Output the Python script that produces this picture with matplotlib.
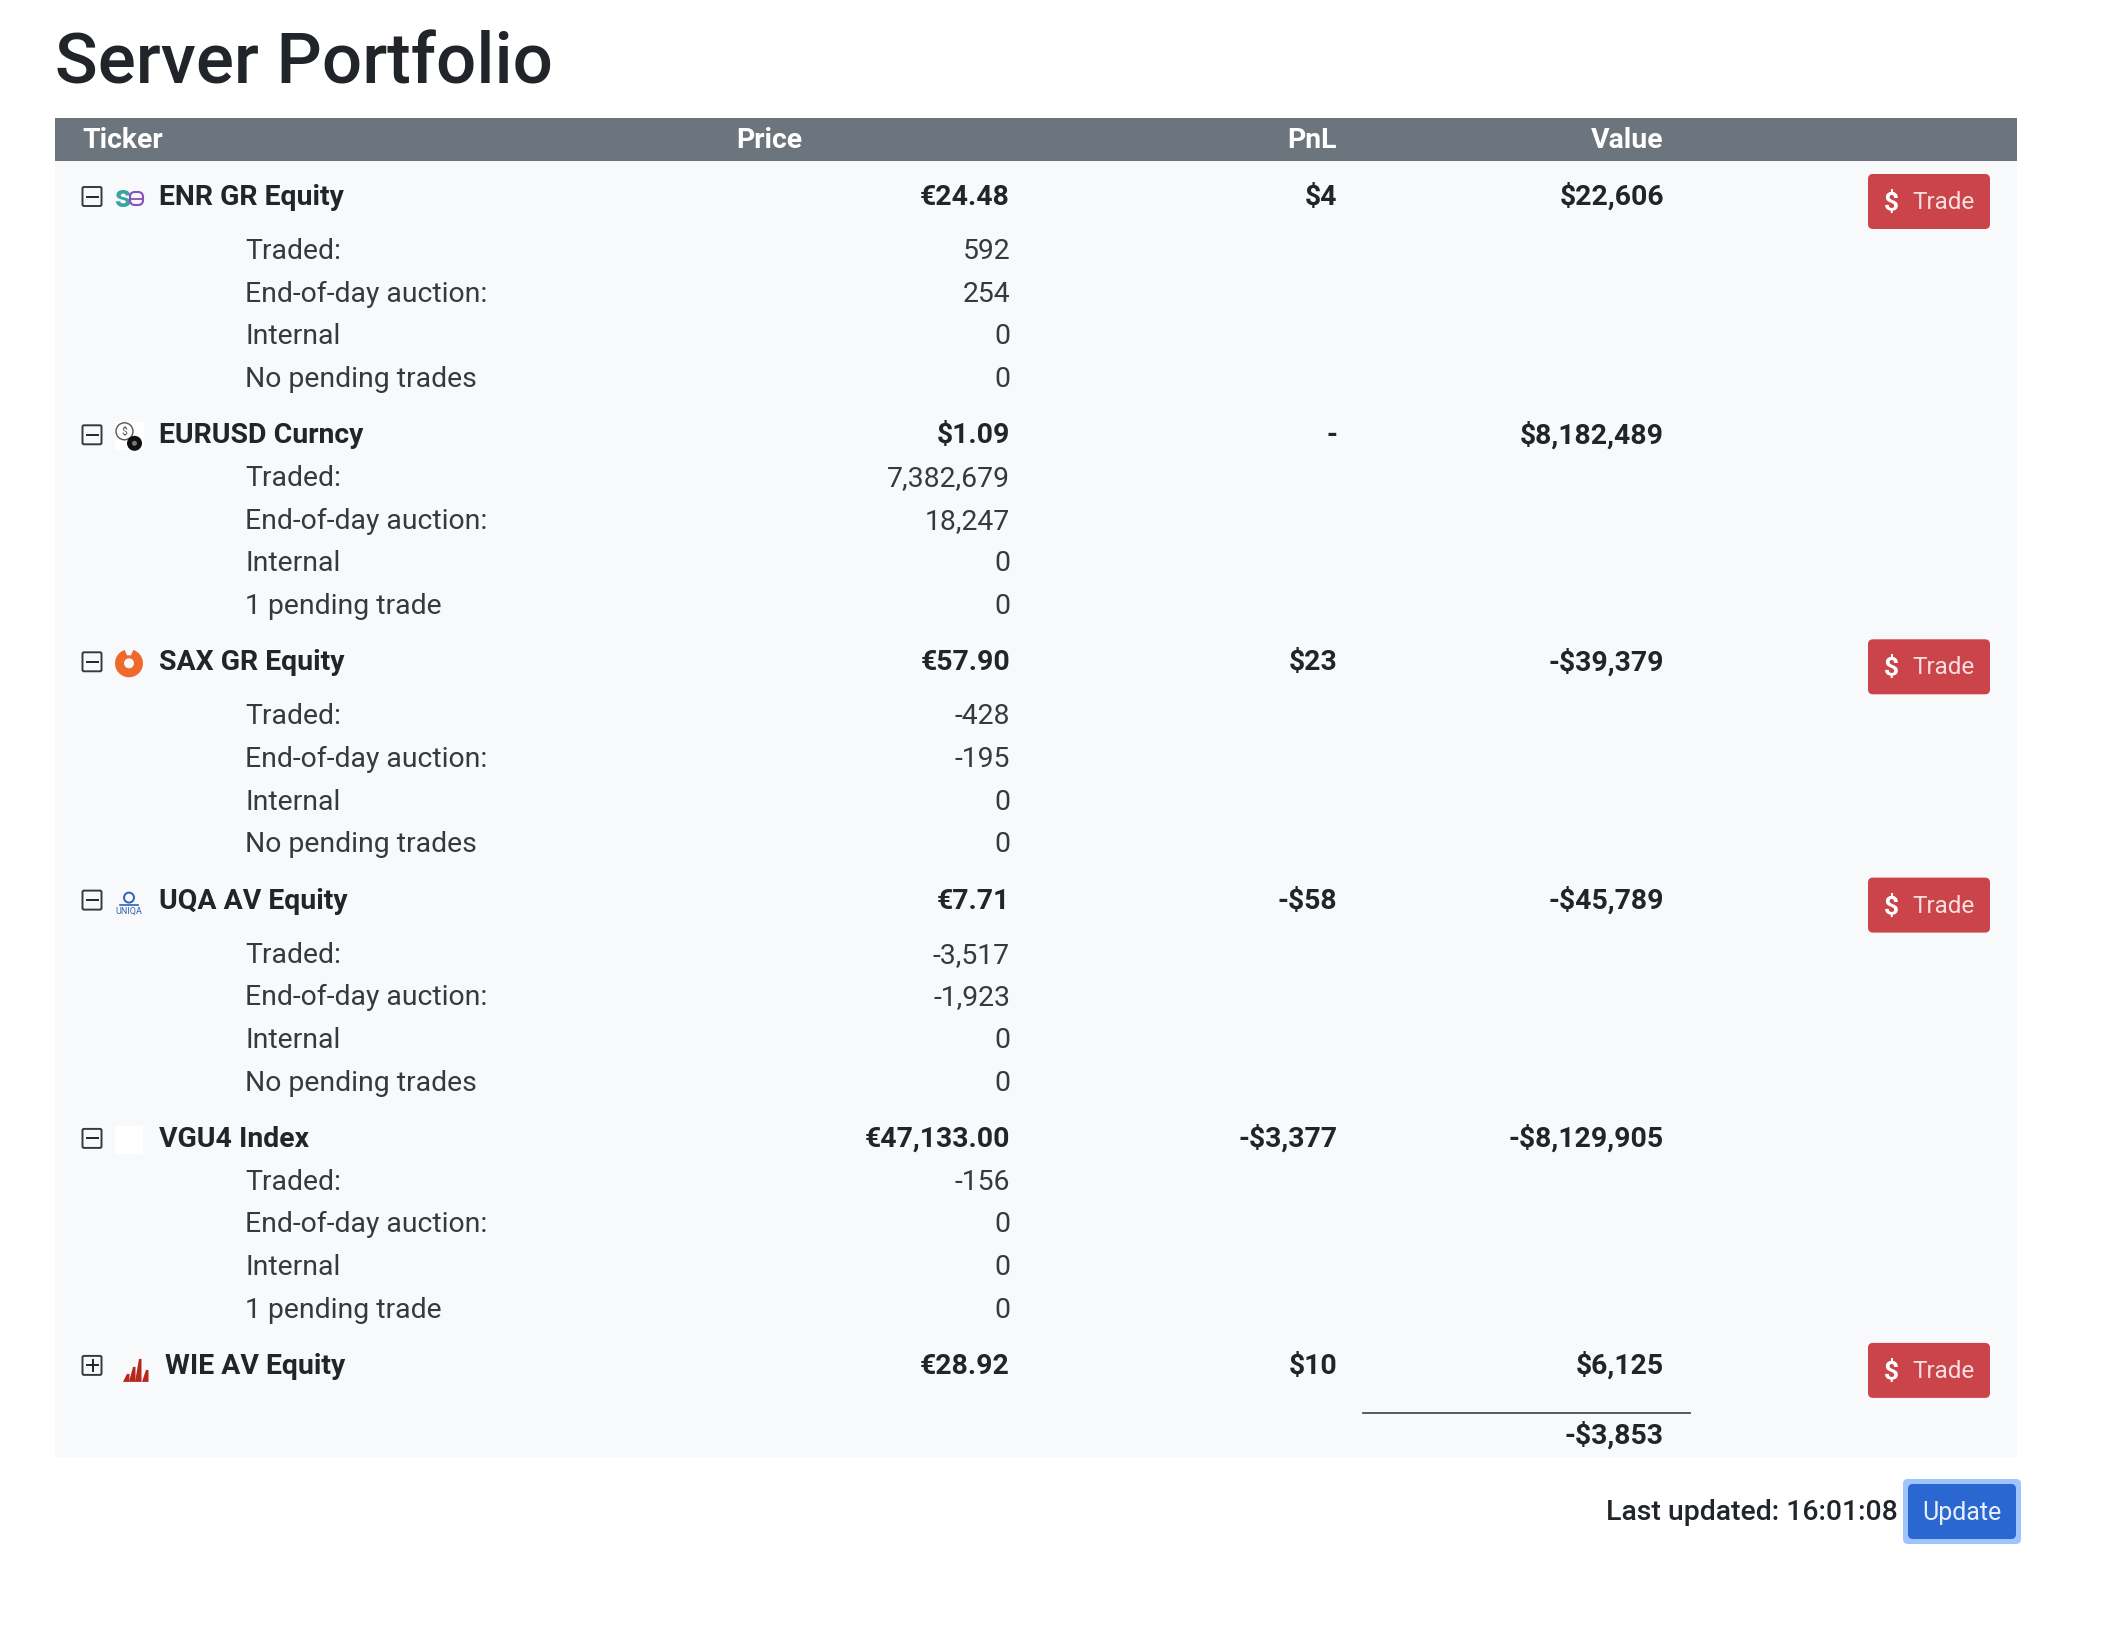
import matplotlib
matplotlib.use('Agg')
import matplotlib.pyplot as plt
from matplotlib.patches import Rectangle, FancyBboxPatch, Circle, Polygon

plt.rcParams['font.family'] = ['Roboto', 'DejaVu Sans']

# table contents
tickers = ['ENR GR Equity', 'EURUSD Curncy', 'SAX GR Equity', 'UQA AV Equity', 'VGU4 Index', 'WIE AV Equity']
prices = ['€24.48', '$1.09', '€57.90', '€7.71', '€47,133.00', '€28.92']
pnls = ['$4', '-', '$23', '-$58', '-$3,377', '$10']
values = ['$22,606', '$8,182,489', '-$39,379', '-$45,789', '-$8,129,905', '$6,125']
has_trade = [True, False, True, True, False, True]
expanded = [True, True, True, True, True, False]
traded = ['592', '7,382,679', '-428', '-3,517', '-156', None]
auction = ['254', '18,247', '-195', '-1,923', '0', None]
internal = ['0', '0', '0', '0', '0', None]
pending_labels = ['No pending trades', '1 pending trade', 'No pending trades', 'No pending trades', '1 pending trade', None]
pending = ['0', '0', '0', '0', '0', None]
total_value = '-$3,853'
last_updated = 'Last updated: 16:01:08'

DARK = '#212529'
BG = '#f8f9fa'
FS = 20.4

fig = plt.figure(figsize=(21.18, 16.38), dpi=100, facecolor='white')
ax = fig.add_axes([0, 0, 1, 1])
ax.set_xlim(0, 2118)
ax.set_ylim(1638, 0)
ax.axis('off')


def txt(x, y, s, ha='left', weight='normal', color=DARK, size=FS):
    ax.text(x, y, s, ha=ha, va='baseline', fontsize=size, fontweight=weight, color=color)


def button(x0, y0, x1, y1, color, zorder=2):
    ax.add_patch(FancyBboxPatch((x0, y0), x1 - x0, y1 - y0, boxstyle='round,pad=0,rounding_size=5',
                                fc=color, ec='none', zorder=zorder))


# title and table background
txt(55, 84, 'Server Portfolio', weight='medium', size=51)
ax.add_patch(Rectangle((55, 117.5), 1962, 1339, fc=BG, ec='none', zorder=0))
ax.add_patch(Rectangle((55, 117.5), 1962, 43, fc='#6c757d', ec='none', zorder=1))

PRICE_X, PNL_X, VALUE_X = 1010, 1337, 1664
txt(82, 148, 'Ticker', weight='bold', color='white')
txt(802, 148, 'Price', ha='right', weight='bold', color='white')
txt(PNL_X, 148, 'PnL', ha='right', weight='bold', color='white')
txt(VALUE_X, 148, 'Value', ha='right', weight='bold', color='white')


def draw_logo(i, y):
    if i == 0:
        ax.text(114, y + 2, 's', fontsize=23, fontweight='bold', color='#3aa5a0', va='baseline')
        ax.add_patch(FancyBboxPatch((130, y - 13), 13, 13, boxstyle='round,pad=0,rounding_size=5',
                                    fc='none', ec='#8a4fc0', lw=1.5, zorder=3))
        ax.plot([131, 142], [y - 6.5, y - 6.5], color='#8a4fc0', lw=1.3, zorder=3)
    elif i == 1:
        ax.add_patch(Rectangle((115, y - 21), 29, 28, fc='white', ec='none', zorder=2))
        ax.add_patch(Circle((124.5, y - 12), 8.5, fc='white', ec='#555555', lw=1, zorder=3))
        ax.text(124.5, y - 8, '$', fontsize=7.5, color='#555555', ha='center', va='baseline', zorder=4)
        ax.add_patch(Circle((134.5, y + 0), 7.5, fc='#111111', ec='none', zorder=5))
        ax.add_patch(Circle((134.5, y + 0), 2.5, fc='#777777', ec='none', zorder=6))
    elif i == 2:
        ax.add_patch(Circle((129, y - 7), 14, fc='#ef6a2a', ec='none', zorder=3))
        ax.add_patch(Circle((129, y - 7), 5, fc=BG, ec='none', zorder=4))
        ax.add_patch(Polygon([(124, y - 22), (134, y - 22), (131, y - 15), (127, y - 15)],
                             fc=BG, ec='none', zorder=4))
    elif i == 3:
        ax.text(129, y + 5, 'UNIQA', fontsize=6.5, color='#2f62b5', ha='center', va='baseline', zorder=3)
        ax.add_patch(Circle((129, y - 11), 5, fc='none', ec='#2f62b5', lw=1.4, zorder=3))
        ax.plot([120, 138], [y - 4, y - 4], color='#2f62b5', lw=1.2, zorder=3)
    elif i == 4:
        ax.add_patch(Rectangle((115, y - 21), 28, 28, fc='white', ec='none', zorder=2))
    else:
        for x0, h in [(123, 8), (129, 15), (135, 23), (142, 12)]:
            top = y + 8 - h
            ax.add_patch(Polygon([(x0, y + 8), (x0 + 4, top), (x0 + 6.5, top), (x0 + 6.5, y + 8)],
                                 fc='#b5281e', ec='none', zorder=3))


# rows
y = 205
for i in range(len(tickers)):
    # expand box
    ax.add_patch(FancyBboxPatch((82.5, y - 18), 19, 19, boxstyle='round,pad=0,rounding_size=1.5',
                                fc='none', ec='#343a40', lw=1.4, zorder=3))
    ax.plot([87, 98], [y - 8.5, y - 8.5], color='#212529', lw=1.4, zorder=3)
    if not expanded[i]:
        ax.plot([92.5, 92.5], [y - 14, y - 3], color='#212529', lw=1.4, zorder=3)
    draw_logo(i, y)

    txt(159 if expanded[i] else 165, y, tickers[i], weight='bold')
    txt(PRICE_X, y, prices[i], ha='right', weight='bold')
    txt(PNL_X, y, pnls[i], ha='right', weight='bold')
    txt(VALUE_X, y, values[i], ha='right', weight='bold')

    if has_trade[i]:
        button(1868, y - 31, 1990, y + 24, '#cb444a')
        txt(1891, y + 5, '$', ha='center', weight='bold', color='white', size=19)
        txt(1912, y + 4, 'Trade', color='#f6dfe0', size=17.5)

    if expanded[i]:
        sub = y + (54 if has_trade[i] else 42.7)
        labels = ['Traded:', 'End-of-day auction:', 'Internal', pending_labels[i]]
        nums = [traded[i], auction[i], internal[i], pending[i]]
        for label, num in zip(labels, nums):
            txt(245, sub, label, color='#343a40')
            txt(PRICE_X, sub, num, ha='right', color='#343a40')
            sub += 42.7
        y = sub - 42.7 + 56.2

# total
ax.plot([1363, 1690], [1413, 1413], color='#4a4f55', lw=1.3, zorder=2)
txt(VALUE_X, 1444, total_value, ha='right', weight='bold')

# footer
txt(1898, 1520, last_updated, ha='right', weight='medium')
button(1903, 1479, 2021, 1544, '#9ec5fe')
button(1908, 1484, 2016, 1539, '#2b67d1', zorder=3)
ax.text(1962, 1520, 'Update', ha='center', va='baseline', fontsize=18, color='#e8effb', zorder=4)

fig.savefig('out.png', dpi=100, facecolor='white')
